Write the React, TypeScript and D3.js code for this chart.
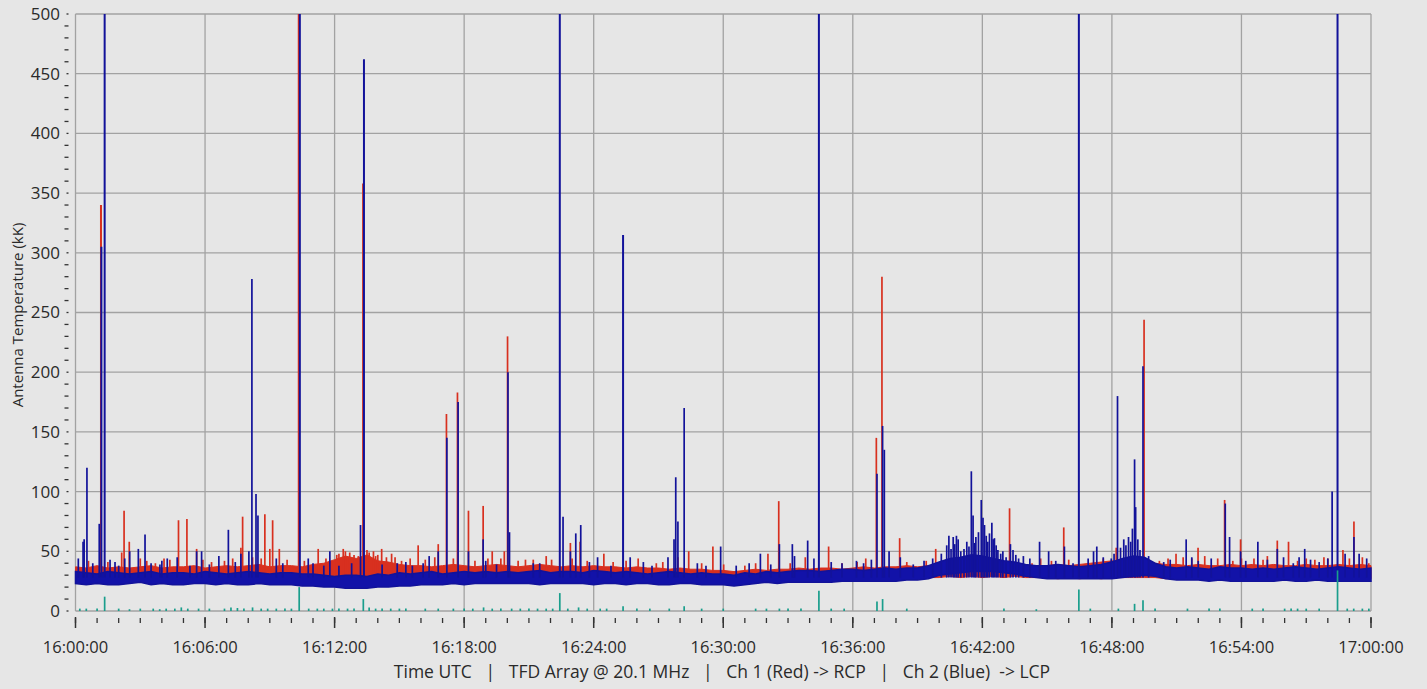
import React from 'react';
import * as d3 from 'd3';

// time is minutes after 16:00:00 UTC, values are kK
// noise band of each channel sampled every half minute
const bandTimes = d3.range(0, 60.01, 0.5);

const blueLow = [
  23, 22, 23, 22, 22, 23, 24, 22, 23, 22,
  22, 23, 23, 22, 23, 22, 22, 23, 22, 22,
  22, 21, 21, 20, 20, 19, 19, 19, 20, 20,
  21, 21, 22, 22, 22, 23, 22, 23, 23, 23,
  23, 23, 23, 22, 23, 23, 23, 23, 22, 23,
  23, 22, 23, 23, 22, 22, 23, 23, 22, 22,
  22, 21, 22, 23, 24, 23, 24, 24, 24, 24,
  24, 25, 25, 25, 25, 25, 25, 26, 26, 27,
  30, 31, 32, 33, 33, 33, 32, 31, 29, 28,
  27, 27, 27, 27, 27, 27, 27, 28, 29, 30,
  29, 27, 26, 26, 26, 25, 26, 25, 25, 25,
  25, 25, 26, 25, 25, 26, 25, 25, 25, 25,
  25,
];
const blueHigh = [
  33, 32, 31, 33, 32, 31, 32, 33, 31, 32,
  32, 31, 33, 32, 31, 32, 33, 32, 31, 32,
  32, 31, 31, 30, 29, 30, 30, 29, 31, 30,
  32, 31, 32, 33, 31, 32, 33, 32, 33, 32,
  33, 32, 33, 34, 32, 33, 33, 32, 34, 33,
  32, 33, 32, 31, 32, 33, 32, 31, 32, 31,
  31, 30, 32, 31, 33, 32, 33, 34, 34, 33,
  34, 35, 35, 34, 35, 36, 35, 36, 36, 38,
  41, 44, 45, 47, 46, 44, 42, 41, 39, 38,
  38, 39, 38, 37, 38, 39, 41, 44, 46, 45,
  40, 37, 36, 37, 36, 35, 37, 36, 36, 35,
  36, 35, 36, 37, 36, 35, 36, 37, 36, 35,
  36,
];
const redLow = [
  27, 26, 27, 26, 27, 26, 27, 26, 27, 26,
  27, 26, 27, 26, 27, 26, 27, 26, 27, 26,
  27, 26, 26, 26, 26, 25, 25, 26, 26, 26,
  27, 26, 27, 26, 27, 26, 27, 26, 27, 26,
  27, 26, 27, 26, 27, 26, 27, 26, 27, 26,
  27, 26, 27, 26, 27, 26, 27, 26, 27, 26,
  26, 26, 26, 26, 27, 26, 27, 26, 27, 26,
  27, 26, 27, 27, 27, 27, 27, 27, 27, 28,
  28, 29, 28, 29, 28, 29, 28, 29, 28, 28,
  28, 27, 28, 27, 28, 27, 28, 28, 28, 28,
  28, 27, 28, 27, 28, 27, 28, 27, 28, 27,
  28, 27, 28, 27, 28, 27, 28, 27, 28, 27,
  27,
];
const redHigh = [
  37, 36, 38, 36, 37, 36, 37, 38, 36, 37,
  37, 38, 36, 37, 38, 37, 38, 39, 37, 38,
  38, 37, 39, 40, 43, 46, 44, 47, 42, 41,
  39, 38, 38, 37, 38, 39, 38, 37, 38, 39,
  38, 37, 38, 39, 38, 37, 38, 37, 38, 37,
  37, 36, 37, 36, 36, 35, 36, 35, 35, 34,
  34, 33, 34, 35, 34, 35, 35, 36, 35, 36,
  36, 35, 36, 37, 36, 37, 37, 38, 37, 38,
  37, 36, 37, 38, 37, 38, 37, 38, 37, 38,
  38, 39, 38, 39, 40, 41, 42, 41, 42, 41,
  40, 39, 39, 38, 39, 38, 38, 39, 38, 39,
  38, 39, 38, 38, 39, 38, 38, 39, 38, 39,
  38,
];

const redSpikes: [number, number][] = [
  [1.18, 340], [2.14, 49], [2.25, 84], [2.49, 58], [3.0, 44], [4.37, 43], [4.77, 76],
  [5.16, 77], [5.61, 52], [7.28, 44], [7.66, 53], [7.74, 79], [8.77, 81], [9.0, 52],
  [9.13, 76], [9.44, 52], [10.34, 500], [11.24, 52], [12.2, 48], [12.5, 50], [12.9, 47],
  [13.32, 358], [13.6, 49], [13.9, 46], [14.18, 52], [14.64, 48], [14.8, 45], [15.87, 55],
  [16.64, 45], [16.8, 56], [17.18, 165], [17.69, 183], [18.2, 84], [18.88, 88], [19.3, 50],
  [19.7, 44], [19.86, 50], [20.01, 230], [20.84, 43], [21.8, 46], [22.05, 43], [22.92, 57],
  [23.37, 58], [24.47, 48], [26.06, 44], [26.9, 40], [27.9, 45], [28.4, 50], [29.52, 54],
  [30.02, 39], [32.07, 48], [32.57, 92], [33.8, 45], [34.88, 54], [37.09, 145], [37.35, 280],
  [38.17, 61], [39.84, 52], [43.26, 86], [44.7, 44], [45.77, 70], [48.2, 53], [49.49, 244],
  [50.97, 48], [51.7, 44], [51.99, 53], [52.3, 46], [52.9, 44], [53.22, 93], [53.96, 60],
  [54.58, 44], [55.2, 46], [55.66, 59], [56.18, 58], [57.82, 45], [58.7, 51], [59.21, 75],
  [59.6, 45],
  // small noise tips
  [0.6, 42], [1.5, 41], [3.3, 42], [3.7, 40], [4.1, 44], [5.9, 43], [6.3, 41], [6.9, 42],
  [8.2, 45], [8.6, 44], [9.8, 43], [10.6, 42], [11.6, 44], [12.1, 47], [12.4, 52],
  [12.7, 49], [13.1, 46], [13.5, 51], [13.8, 50], [14.0, 47], [14.4, 45], [15.1, 42],
  [15.5, 44], [16.2, 43], [17.5, 44], [18.5, 42], [19.1, 44], [20.5, 42], [21.2, 43],
  [23.0, 44], [23.7, 42], [24.9, 41], [25.5, 42], [27.2, 41], [29.0, 40], [31.0, 38],
  [31.5, 40], [33.1, 40], [35.5, 40], [36.2, 41], [36.6, 44], [38.5, 41], [39.4, 42],
  [44.3, 40], [45.2, 42], [46.0, 43], [47.6, 44], [50.2, 42], [50.6, 44], [51.3, 45],
  [53.6, 42], [54.0, 44], [55.0, 43], [56.6, 42], [57.0, 44], [57.4, 43], [58.0, 44],
  [59.0, 44], [59.9, 40],
];

const blueSpikes: [number, number][] = [
  [0.13, 44], [0.35, 58], [0.4, 60], [0.53, 120], [1.1, 73], [1.2, 305], [1.35, 500],
  [1.6, 43], [1.83, 41], [2.28, 44], [2.51, 50], [2.91, 52], [3.22, 64], [3.91, 39],
  [4.25, 44], [4.71, 45], [5.61, 50], [5.84, 50], [6.64, 46], [7.08, 68], [7.66, 48],
  [8.03, 50], [8.17, 278], [8.36, 98], [8.45, 80], [9.3, 44], [10.39, 500], [10.78, 44],
  [11.78, 50], [12.79, 40], [13.2, 72], [13.36, 462], [14.9, 40], [16.38, 46], [16.8, 50],
  [17.2, 145], [17.72, 175], [18.2, 50], [18.88, 60], [20.03, 200], [20.1, 66], [21.2, 40],
  [22.43, 500], [22.58, 79], [22.92, 50], [23.17, 65], [23.4, 72], [24.18, 45], [25.36, 315],
  [25.69, 45], [27.44, 45], [27.72, 60], [27.8, 112], [27.9, 75], [28.19, 170], [29.88, 54],
  [31.72, 48], [32.6, 56], [33.2, 56], [33.3, 46], [33.91, 59], [34.2, 44], [34.43, 500],
  [36.17, 42], [36.86, 43], [37.12, 115], [37.38, 155], [37.46, 135], [37.68, 50], [38.2, 45],
  [40.35, 55], [40.45, 63], [40.55, 52], [40.65, 62], [40.72, 56], [40.8, 63], [40.88, 60],
  [41.0, 50], [41.15, 52], [41.28, 58], [41.38, 54], [41.49, 117], [41.57, 80], [41.64, 57],
  [41.7, 62], [41.82, 66], [41.95, 93], [42.03, 78], [42.1, 72], [42.18, 63], [42.25, 58],
  [42.33, 65], [42.44, 74], [42.5, 60], [42.56, 61], [42.64, 55], [42.72, 51], [42.85, 48],
  [42.95, 50], [43.1, 45], [43.3, 56], [43.42, 51], [43.55, 47], [43.68, 44], [44.65, 58],
  [45.07, 50], [45.8, 54], [46.47, 500], [46.9, 44], [47.15, 50], [47.3, 54], [47.97, 44],
  [48.1, 48], [48.26, 180], [48.4, 53], [48.55, 60], [48.65, 55], [48.77, 62], [48.87, 58],
  [48.95, 69], [49.05, 127], [49.1, 87], [49.2, 60], [49.3, 51], [49.44, 205], [51.44, 60],
  [51.7, 45], [53.25, 90], [53.45, 62], [53.96, 50], [54.76, 58], [55.66, 52], [55.95, 45],
  [56.67, 45], [56.93, 52], [58.2, 100], [58.45, 500], [58.8, 48], [59.21, 62], [59.45, 48],
  // small noise tips
  [0.8, 40], [2.0, 38], [3.5, 40], [4.0, 42], [5.3, 38], [6.2, 39], [7.4, 41], [9.6, 40],
  [11.0, 40], [11.5, 38], [12.2, 38], [14.2, 39], [15.3, 41], [15.6, 38], [16.1, 40],
  [19.0, 42], [19.5, 39], [21.5, 40], [23.8, 41], [24.8, 38], [26.3, 41], [26.7, 38],
  [28.8, 40], [29.2, 38], [30.6, 38], [31.2, 40], [32.2, 39], [35.0, 41], [35.5, 40],
  [36.5, 40], [38.8, 39], [39.3, 42], [39.7, 44], [40.1, 48], [43.9, 46], [44.2, 44],
  [45.4, 42], [46.2, 40], [47.6, 45], [49.7, 46], [50.4, 41], [50.7, 43], [52.0, 42],
  [52.6, 44], [54.2, 42], [55.2, 43], [56.4, 40], [57.2, 43], [57.6, 41], [58.0, 44],
  [59.8, 44],
];

const tealSpikes: [number, number][] = [
  [1.35, 12], [10.36, 20], [13.33, 10], [22.43, 15], [25.36, 4], [28.19, 4], [34.43, 17],
  [37.12, 8], [37.38, 10], [46.47, 18], [49.05, 6], [49.44, 9], [58.45, 34],
  [0.2, 2], [0.5, 2], [1.0, 2], [2.0, 2], [2.5, 1.5], [3.0, 2], [3.6, 2], [3.9, 1.5],
  [4.2, 2], [4.6, 2], [4.9, 3], [5.2, 2], [5.7, 2], [6.2, 2], [6.9, 2], [7.2, 3], [7.5, 2.5],
  [7.8, 2], [8.2, 3], [8.6, 2], [8.9, 2], [9.3, 2], [9.7, 2], [10.0, 2], [10.8, 2], [11.2, 2],
  [11.5, 2], [11.9, 2], [12.2, 2], [12.6, 2], [12.9, 2], [13.6, 3], [13.9, 2], [14.2, 2],
  [14.6, 2], [15.0, 2], [15.3, 2], [16.2, 2], [16.8, 2], [17.5, 2], [18.0, 2], [18.4, 2],
  [18.9, 3], [19.3, 2], [19.7, 2], [20.2, 2], [20.6, 2], [21.0, 2], [21.4, 2], [21.8, 2],
  [22.1, 2], [22.8, 2], [23.3, 3], [23.7, 2], [24.3, 2], [24.6, 2], [26.0, 2], [26.6, 2],
  [27.5, 2], [29.0, 2], [30.0, 2], [31.5, 2], [32.0, 2], [32.6, 2], [33.0, 2], [33.6, 2],
  [35.0, 2], [35.6, 2], [38.5, 2], [43.0, 2], [44.5, 1.5], [47.0, 2], [48.3, 2], [50.0, 2],
  [51.5, 2], [52.5, 2], [53.0, 2], [54.5, 2], [55.0, 2], [56.0, 2], [56.3, 2], [56.6, 2],
  [57.0, 2], [57.6, 2], [58.9, 2], [59.2, 2], [59.6, 2], [59.9, 2],
];

const yTickValues = [0, 50, 100, 150, 200, 250, 300, 350, 400, 450, 500];
const xTitle = 'Time UTC   |   TFD Array @ 20.1 MHz   |   Ch 1 (Red) -> RCP   |   Ch 2 (Blue)  -> LCP';
const yTitle = 'Antenna Temperature (kK)';

const RED = '#d8301f';
const BLUE = '#12129a';
const BLUE_BAND = '#1212a8';
const TEAL = '#1a9e8c';
const GRID = '#a2a2a2';
const TEXT = '#2a2a2a';
const FONT = '"Open Sans", "Noto Sans", sans-serif';

const W = 1427;
const H = 689;
const margin = { left: 75.5, right: 56, top: 14, bottom: 78 };

const t0 = new Date(Date.UTC(2020, 0, 1, 16, 0, 0));
const toDate = (m: number) => new Date(t0.getTime() + m * 60000);

export default function App() {
  const x = d3.scaleUtc()
    .domain([t0, toDate(60)])
    .range([margin.left, W - margin.right]);
  const y = d3.scaleLinear()
    .domain([0, 500])
    .range([H - margin.bottom, margin.top])
    .clamp(true);

  const majorTicks = x.ticks(d3.utcMinute.every(6)!);
  const minorTicks = x.ticks(d3.utcMinute.every(1)!);
  const fmt = d3.utcFormat('%H:%M:%S');
  const minorY = d3.range(0, 501, 10);

  const band = (lo: number[], hi: number[]) =>
    d3.area<number>()
      .x(m => x(toDate(m)))
      .y0((_, i) => y(lo[i]))
      .y1((_, i) => y(hi[i]))(bandTimes) || '';

  const spikes = (list: [number, number][], base: number, color: string, key: string) =>
    list.map(([m, v], i) => (
      <line
        key={key + i}
        x1={x(toDate(m))}
        x2={x(toDate(m))}
        y1={y(base)}
        y2={y(v)}
        stroke={color}
        strokeWidth={v >= 300 ? 2 : 1.7}
      />
    ));

  const y0 = y(0);

  return (
    <svg
      width={W}
      height={H}
      style={{ position: 'absolute', left: 0, top: 0, background: '#e6e6e6' }}
      fontFamily={FONT}
    >
      <rect x={0} y={0} width={W} height={H} fill="#e6e6e6" />

      {/* grid */}
      {yTickValues.map(v => (
        <line key={'gy' + v} x1={margin.left} x2={W - margin.right} y1={y(v)} y2={y(v)}
          stroke={GRID} strokeWidth={1.3} />
      ))}
      {majorTicks.map(d => (
        <line key={'gx' + d.getTime()} x1={x(d)} x2={x(d)} y1={margin.top} y2={y0}
          stroke={GRID} strokeWidth={1.3} />
      ))}

      {/* Ch 1 red */}
      <path d={band(redLow, redHigh)} fill={RED} stroke={RED} strokeWidth={1} />
      {spikes(redSpikes, 30, RED, 'r')}

      {/* Ch 2 blue */}
      <path d={band(blueLow, blueHigh)} fill={BLUE_BAND} stroke={BLUE} strokeWidth={1.5} />
      {spikes(blueSpikes, 28, BLUE, 'b')}

      {/* difference trace */}
      {spikes(tealSpikes, 0, TEAL, 't')}

      {/* y axis */}
      {minorY.map(v => (
        <line key={'my' + v} x1={yTickValues.includes(v) ? 66.5 : 64.5} x2={68.5} y1={y(v)} y2={y(v)}
          stroke="#333" strokeWidth={1.3} />
      ))}
      {yTickValues.map(v => (
        <text key={'ly' + v} x={60} y={y(v)} dy="0.35em" textAnchor="end" fontSize={17} fill={TEXT}>
          {v}
        </text>
      ))}
      <text
        transform={`translate(23,315) rotate(-90)`}
        textAnchor="middle"
        fontSize={15}
        fill={TEXT}
      >
        {yTitle}
      </text>

      {/* x axis */}
      {minorTicks.map(d => (
        <line key={'mx' + d.getTime()} x1={x(d)} x2={x(d)} y1={618} y2={623} stroke="#333" strokeWidth={1.3} />
      ))}
      {majorTicks.map(d => (
        <g key={'lx' + d.getTime()}>
          <line x1={x(d)} x2={x(d)} y1={617} y2={628} stroke="#333" strokeWidth={1.5} />
          <text x={x(d)} y={653} textAnchor="middle" fontSize={16.5} fill={TEXT}>
            {fmt(d)}
          </text>
        </g>
      ))}
      <text x={722} y={678} textAnchor="middle" fontSize={17.5} fill={TEXT} style={{ whiteSpace: 'pre' }}>
        {xTitle}
      </text>
    </svg>
  );
}
